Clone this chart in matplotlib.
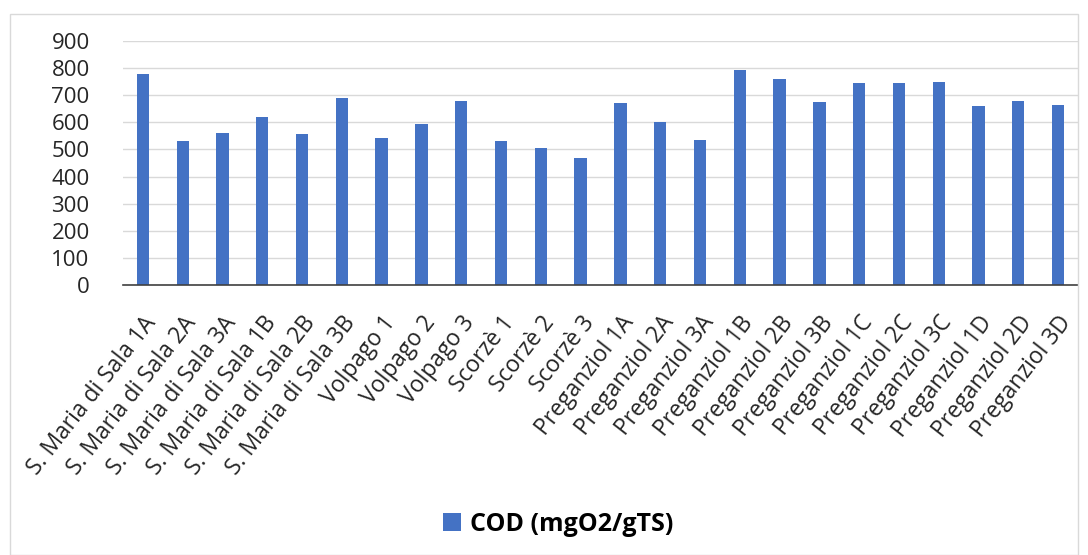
import matplotlib.pyplot as plt
from matplotlib.patches import Rectangle

# Dati
samples = ["S. Maria di Sala 1A", "S. Maria di Sala 2A", "S. Maria di Sala 3A",
           "S. Maria di Sala 1B", "S. Maria di Sala 2B", "S. Maria di Sala 3B",
           "Volpago 1", "Volpago 2", "Volpago 3",
           "Scorzè 1", "Scorzè 2", "Scorzè 3",
           "Preganziol 1A", "Preganziol 2A", "Preganziol 3A",
           "Preganziol 1B", "Preganziol 2B", "Preganziol 3B",
           "Preganziol 1C", "Preganziol 2C", "Preganziol 3C",
           "Preganziol 1D", "Preganziol 2D", "Preganziol 3D"]
cod = [777, 530, 562, 621, 556, 690,
       541, 593, 680,
       530, 505, 467,
       670, 600, 535,
       792, 760, 675,
       744, 744, 749,
       659, 680, 663]
y_ticks = [0, 100, 200, 300, 400, 500, 600, 700, 800, 900]

plt.rcParams['font.family'] = ['Open Sans', 'DejaVu Sans']

fig = plt.figure(figsize=(10.88, 5.55), dpi=100)
ax = fig.add_axes([123 / 1088, 1 - 285 / 555, 955 / 1088, 244 / 555])

x = range(len(samples))
ax.bar(x, cod, width=0.31, color='#4472C4', label='COD (mgO2/gTS)', zorder=3)

ax.set_xlim(-0.5, len(samples) - 0.5)
ax.set_ylim(0, 900)
ax.set_yticks(y_ticks)
ax.set_yticklabels([str(v) for v in y_ticks], fontsize=16, color='#262626')
ax.set_xticks(list(x))
ax.set_xticklabels(samples, rotation=52, ha='right', rotation_mode='anchor',
                   fontsize=16.5, color='#262626')
ax.tick_params(axis='both', length=0)
ax.tick_params(axis='y', pad=24)
ax.tick_params(axis='x', pad=19)

ax.grid(axis='y', color='#D9D9D9', linewidth=1, zorder=0)
for s in ['top', 'right', 'left']:
    ax.spines[s].set_visible(False)
ax.spines['bottom'].set_color('#404040')
ax.spines['bottom'].set_linewidth(1.2)
ax.spines['bottom'].set_zorder(4)

# Bordo del grafico
fig.patches.append(Rectangle((10 / 1088, 0), 1 - 20 / 1088, 1 - 14 / 555,
                             transform=fig.transFigure, fill=False,
                             edgecolor='#D9D9D9', linewidth=1))

fig.legend(loc='lower center', bbox_to_anchor=(0.513, -0.008), frameon=False,
           prop={'weight': 'bold', 'size': 18}, handlelength=0.72,
           handleheight=0.72, handletextpad=0.35)

fig.savefig('out.png', dpi=100)
